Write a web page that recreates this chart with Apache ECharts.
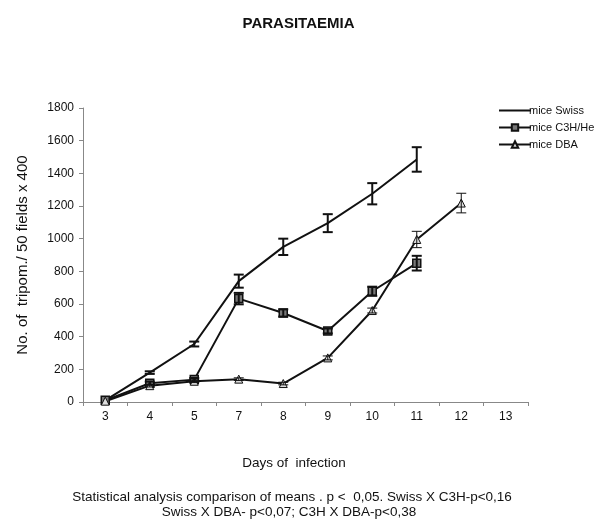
<!DOCTYPE html>
<html><head><meta charset="utf-8">
<script src="https://cdn.jsdelivr.net/npm/echarts@6/dist/echarts.min.js"></script>
<style>html,body{margin:0;padding:0;background:#fff}#c{width:597px;height:524px}</style>
</head><body><div id="c"></div>
<script>
var days = ['3','4','5','7','8','9','10','11','12','13'];
var swiss = [10, 180, 355, 740, 950, 1095, 1275, 1485, null, null];
var swissErr = [0, 8, 15, 40, 50, 55, 65, 75, null, null];
var c3h = [10, 115, 137, 633, 545, 435, 678, 850, null, null];
var c3hErr = [0, 10, 10, 35, 22, 15, 28, 45, null, null];
var dba = [5, 100, 127, 140, 113, 270, 560, 995, 1218, null];
var dbaErr = [0, 8, 8, 8, 8, 12, 15, 50, 60, null];
var yTicks = [0, 200, 400, 600, 800, 1000, 1200, 1400, 1600, 1800];

function errData(vals, errs) {
  var out = [];
  for (var i = 0; i < vals.length; i++) {
    if (vals[i] != null && errs[i] > 0) out.push([i, vals[i] - errs[i], vals[i] + errs[i]]);
  }
  return out;
}
function errSeries(vals, errs, lw) {
  return {
    type: 'custom', silent: true, z: 5,
    renderItem: function (params, api) {
      var x = api.value(0);
      var lo = api.coord([x, api.value(1)]);
      var hi = api.coord([x, api.value(2)]);
      var hw = 5;
      var st = { stroke: '#111', lineWidth: lw, fill: null };
      return { type: 'group', children: [
        { type: 'line', shape: { x1: lo[0], y1: lo[1], x2: hi[0], y2: hi[1] }, style: st },
        { type: 'line', shape: { x1: lo[0] - hw, y1: lo[1], x2: lo[0] + hw, y2: lo[1] }, style: st },
        { type: 'line', shape: { x1: hi[0] - hw, y1: hi[1], x2: hi[0] + hw, y2: hi[1] }, style: st }
      ]};
    },
    data: errData(vals, errs)
  };
}
var font = 'Liberation Sans, Arial, sans-serif';
var chart = echarts.init(document.getElementById('c'));
chart.setOption({
  animation: false,
  backgroundColor: '#fff',
  title: [
    { text: 'PARASITAEMIA', left: 'center', top: 11, textStyle: { fontFamily: font, fontSize: 15, fontWeight: 'bold', color: '#111' } }
  ],
  graphic: [
    { type: 'text', x: 294, y: 463, style: { text: 'Days of  infection', font: '13.5px ' + font, fill: '#111', textAlign: 'center', textVerticalAlign: 'middle' } },
    { type: 'text', x: 292, y: 497, style: { text: 'Statistical analysis comparison of means . p <  0,05. Swiss X C3H-p<0,16', font: '13.5px ' + font, fill: '#111', textAlign: 'center', textVerticalAlign: 'middle' } },
    { type: 'text', x: 289, y: 512, style: { text: 'Swiss X DBA- p<0,07; C3H X DBA-p<0,38', font: '13.5px ' + font, fill: '#111', textAlign: 'center', textVerticalAlign: 'middle' } }
  ],
  legend: {
    orient: 'vertical', left: 493, top: 100, itemWidth: 32, itemHeight: 8, itemGap: 6,
    textStyle: { fontFamily: font, fontSize: 11, color: '#111', padding: [0, 0, 0, -7] },
    data: [
      { name: 'mice Swiss', itemStyle: { opacity: 0 } },
      'mice C3H/He', 'mice DBA']
  },
  grid: { left: 83, right: 69, top: 108, bottom: 122 },
  xAxis: {
    type: 'category', data: days, boundaryGap: true,
    axisLine: { lineStyle: { color: '#888', width: 1 } },
    axisTick: { show: true, inside: false, length: 4, lineStyle: { color: '#888' } },
    axisLabel: { fontFamily: font, fontSize: 12, color: '#111', margin: 9 }
  },
  yAxis: {
    type: 'value', min: 0, max: 1800, interval: 200,
    name: 'No. of  tripom./ 50 fields x 400', nameLocation: 'middle', nameGap: 53, nameRotate: 90,
    nameTextStyle: { fontFamily: font, fontSize: 15, color: '#111' },
    splitLine: { show: false },
    axisLine: { show: true, lineStyle: { color: '#888', width: 1 } },
    axisTick: { show: true, length: 4, lineStyle: { color: '#888' } },
    axisLabel: { fontFamily: font, fontSize: 12, color: '#111', margin: 9, formatter: function (v) { return String(v); } }
  },
  series: [
    { name: 'mice Swiss', type: 'line', data: swiss, symbol: 'none', showSymbol: false,
      lineStyle: { color: '#111', width: 2 }, itemStyle: { color: '#111' } },
    { name: 'mice C3H/He', type: 'line', data: c3h, symbol: 'rect', symbolSize: 8,
      lineStyle: { color: '#111', width: 2 }, itemStyle: { color: '#777', borderColor: '#111', borderWidth: 1.5 } },
    { name: 'mice DBA', type: 'line', data: dba, symbol: 'triangle', symbolSize: 8,
      lineStyle: { color: '#111', width: 2 }, itemStyle: { color: '#ddd', borderColor: '#111', borderWidth: 1 } },
    errSeries(swiss, swissErr, 2),
    errSeries(c3h, c3hErr, 2),
    errSeries(dba, dbaErr, 1)
  ]
});
</script></body></html>
